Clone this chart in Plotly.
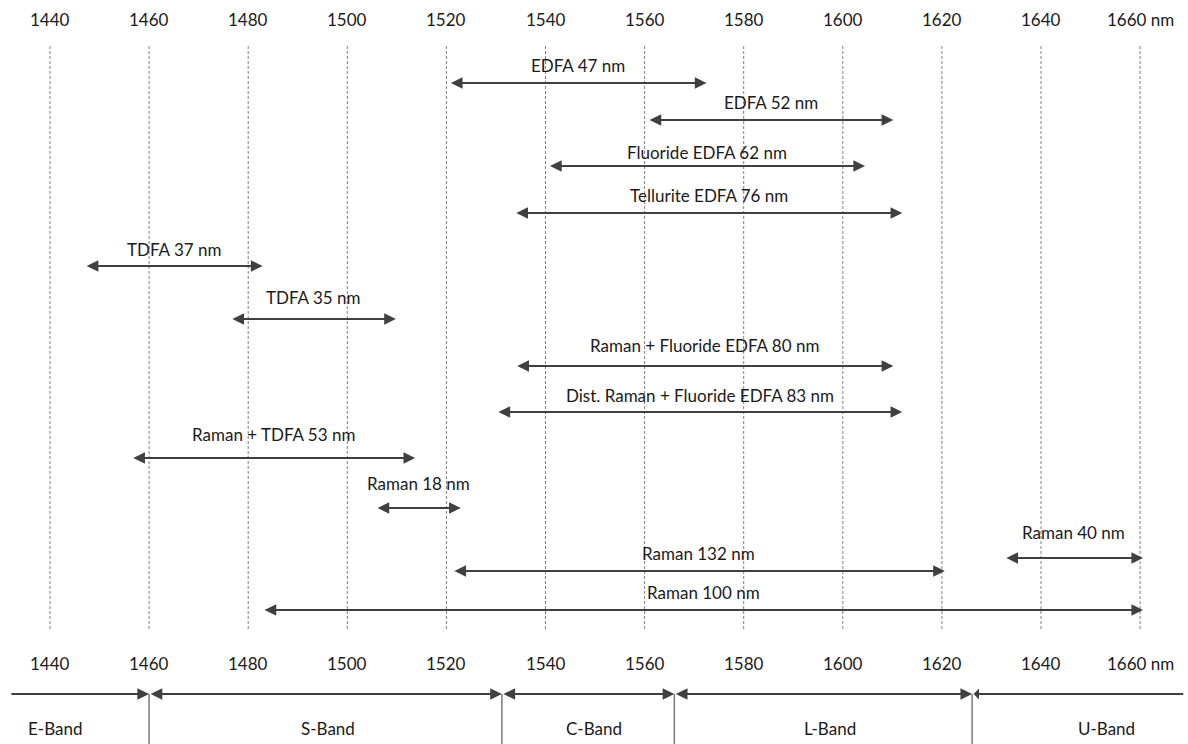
import plotly.graph_objects as go

# ---- data (wavelengths in nm) ----
tick_values = [1440, 1460, 1480, 1500, 1520, 1540, 1560, 1580, 1600, 1620, 1640, 1660]
tick_labels = ["1440", "1460", "1480", "1500", "1520", "1540", "1560", "1580", "1600", "1620", "1640", "1660 nm"]

amp_labels = ["EDFA 47 nm", "EDFA 52 nm", "Fluoride EDFA 62 nm", "Tellurite EDFA 76 nm",
              "TDFA 37 nm", "TDFA 35 nm", "Raman + Fluoride EDFA 80 nm",
              "Dist. Raman + Fluoride EDFA 83 nm", "Raman + TDFA 53 nm", "Raman 18 nm",
              "Raman 40 nm", "Raman 132 nm", "Raman 100 nm"]
amp_start = [1520.6, 1560.7, 1540.6, 1533.8, 1447.1, 1476.5, 1534.0, 1530.2, 1456.5, 1505.8, 1632.7, 1521.3, 1483.0]
amp_end = [1572.5, 1610.2, 1604.5, 1612.0, 1482.9, 1509.8, 1610.2, 1612.0, 1513.7, 1522.9, 1660.6, 1620.6, 1660.6]

band_names = ["E-Band", "S-Band", "C-Band", "L-Band", "U-Band"]
band_edges = [1431.9, 1460.0, 1531.2, 1566.0, 1626.1, 1668.7]
band_label_x = [1441.0, 1496.1, 1549.8, 1597.4, 1653.3]

# ---- layout positions (pixel rows, top = 0) ----
amp_rows = [83, 120, 166, 213, 266, 319, 366, 412, 458, 508, 558, 571, 610]
label_rows = [65, 102, 152, 195, 249, 297, 345, 395, 434, 483, 532, 553, 592]

W, H = 1188, 744
PX0, PX_PER_NM = 50.0, 4.955
x_range = [1440 - PX0 / PX_PER_NM, 1440 + (W - PX0) / PX_PER_NM]

FONT = "Lato"
TXT = "#1a1a1a"
ARROW = "#404040"
GRID = "#808080"
FS = 17

fig = go.Figure()
# invisible trace so the axes exist
fig.add_trace(go.Scatter(x=tick_values, y=[-100] * len(tick_values), mode="markers",
                         marker=dict(opacity=0), hoverinfo="skip", showlegend=False))

shapes = []
annotations = []

# dashed reference lines
for t in tick_values:
    shapes.append(dict(type="line", xref="x", yref="y", x0=t, x1=t, y0=46, y1=631,
                       line=dict(color=GRID, width=1, dash="3px,2px")))

# top and bottom tick labels
for t, lab in zip(tick_values, tick_labels):
    for yy in (19, 663):
        annotations.append(dict(x=t, y=yy, xref="x", yref="y", text=lab, showarrow=False,
                                font=dict(family=FONT, size=FS, color=TXT),
                                xanchor="center", yanchor="middle"))

# amplifier arrows and labels
for lab, s, e, r, lr in zip(amp_labels, amp_start, amp_end, amp_rows, label_rows):
    annotations.append(dict(x=e, y=r, ax=s, ay=r, xref="x", yref="y", axref="x", ayref="y",
                            text="", showarrow=True, arrowhead=2, arrowside="end+start",
                            arrowsize=1.3, arrowwidth=1.8, arrowcolor=ARROW))
    annotations.append(dict(x=(s + e) / 2, y=lr, xref="x", yref="y", text=lab, showarrow=False,
                            font=dict(family=FONT, size=FS, color=TXT),
                            xanchor="center", yanchor="middle"))

# band bar
n = len(band_names)
for i in range(n):
    s, e = band_edges[i], band_edges[i + 1]
    if i == 0:
        side = "end"
    elif i == n - 1:
        side = "start"
    else:
        side = "end+start"
    annotations.append(dict(x=e, y=694, ax=s, ay=694, xref="x", yref="y", axref="x", ayref="y",
                            text="", showarrow=True, arrowhead=2, arrowside=side,
                            arrowsize=1.3, arrowwidth=1.8, arrowcolor=ARROW))
    annotations.append(dict(x=band_label_x[i], y=728, xref="x", yref="y", text=band_names[i],
                            showarrow=False, font=dict(family=FONT, size=FS, color=TXT),
                            xanchor="center", yanchor="middle"))
for edge in band_edges[1:-1]:
    shapes.append(dict(type="line", xref="x", yref="y", x0=edge, x1=edge, y0=694, y1=744,
                       line=dict(color="#7a7a7a", width=1.5)))

fig.update_layout(
    width=W, height=H, autosize=False,
    margin=dict(l=0, r=0, t=0, b=0),
    paper_bgcolor="white", plot_bgcolor="white",
    xaxis=dict(range=x_range, visible=False, showgrid=False, zeroline=False, fixedrange=True),
    yaxis=dict(range=[H, 0], visible=False, showgrid=False, zeroline=False, fixedrange=True),
    shapes=shapes, annotations=annotations, showlegend=False,
)

fig.write_html("out.html", config={"displayModeBar": False},
               post_script="document.body.style.margin='0px';document.body.style.overflow='hidden';")
